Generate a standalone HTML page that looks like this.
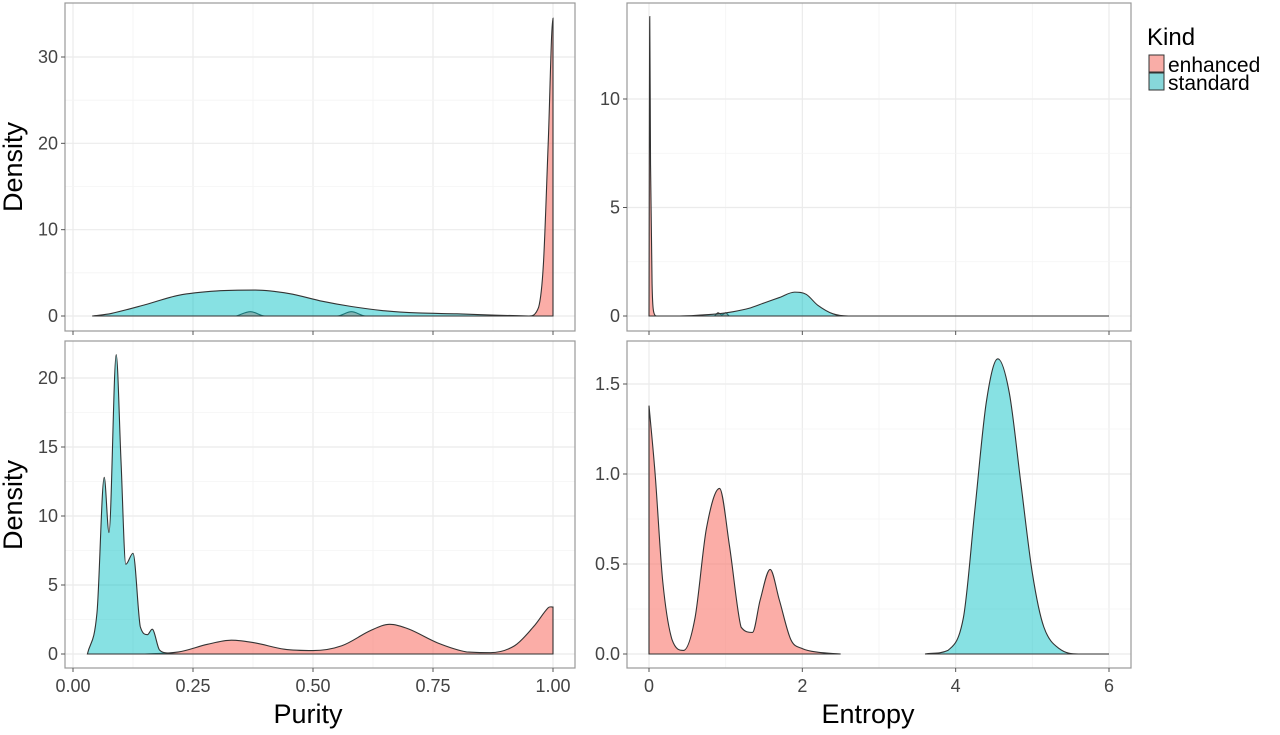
<!DOCTYPE html>
<html><head><meta charset="utf-8"><style>
body{margin:0;background:#fff;width:1280px;height:730px;overflow:hidden;font-family:"Liberation Sans",sans-serif}
</style></head><body>
<svg id="chart" width="1280" height="730" xmlns="http://www.w3.org/2000/svg" font-family="Liberation Sans, sans-serif"></svg>
<script>
// ---- data ----
const tlStdX=[0.04,0.08,0.15,0.22,0.3,0.38,0.45,0.52,0.58,0.65,0.72,0.8,0.88,0.95];
const tlStdY=[0,0.3,1.3,2.4,2.9,3.0,2.6,1.7,1.1,0.6,0.35,0.25,0.1,0];
const tlEnhX=[0.34,0.37,0.40,0.55,0.58,0.61,0.95,0.97,0.98,0.99,1.0,1.0];
const tlEnhY=[0,0.5,0,0,0.5,0,0,1.0,6,20,34.5,0];
const trEnhX=[0,0.01,0.02,0.04,0.06,0.1,0.85,0.9,0.95,1.0,1.05,6];
const trEnhY=[0,13.8,7,1.5,0.2,0,0,0.15,0.05,0.15,0,0];
const trStdX=[0,0.4,0.7,0.9,1.1,1.3,1.5,1.7,1.9,2.05,2.2,2.4,2.6,6];
const trStdY=[0,0,0.05,0.1,0.2,0.35,0.6,0.85,1.1,1.0,0.5,0.1,0,0];
const blStdX=[0.03,0.05,0.065,0.075,0.09,0.1,0.11,0.125,0.14,0.155,0.165,0.18,0.2,0.22];
const blStdY=[0,3,12.8,8.8,21.7,14,6.5,7.3,2,1.4,1.8,0.3,0.05,0];
const blEnhX=[0.15,0.22,0.28,0.33,0.38,0.44,0.5,0.56,0.62,0.66,0.7,0.76,0.82,0.87,0.92,0.96,0.99,1.0,1.0];
const blEnhY=[0,0.15,0.7,1.0,0.8,0.35,0.25,0.6,1.7,2.15,1.8,0.8,0.15,0.1,0.6,2.0,3.35,3.4,0];
const brEnhX=[0,0.08,0.18,0.3,0.45,0.6,0.75,0.92,1.05,1.2,1.35,1.45,1.58,1.7,1.85,2.0,2.2,2.5];
const brEnhY=[1.38,1.0,0.4,0.08,0.02,0.2,0.7,0.92,0.6,0.15,0.12,0.3,0.47,0.3,0.08,0.03,0.01,0];
const brStdX=[3.6,3.9,4.1,4.25,4.4,4.55,4.7,4.85,5.0,5.15,5.35,5.6,6.0];
const brStdY=[0,0.02,0.2,0.8,1.4,1.64,1.45,0.95,0.45,0.15,0.03,0,0];
const purTicks=[0,0.25,0.5,0.75,1.0];
const purLabels=["0.00","0.25","0.50","0.75","1.00"];
const entTicks=[0,2,4,6];
const entLabels=["0","2","4","6"];
const tlYTicks=[0,10,20,30];
const trYTicks=[0,5,10];
const blYTicks=[0,5,10,15,20];
const brYTicks=[0,0.5,1.0,1.5];
const brYLabels=["0.0","0.5","1.0","1.5"];

const NS="http://www.w3.org/2000/svg";
const svg=document.getElementById('chart');
function mk(tag,attrs,parent){const e=document.createElementNS(NS,tag);for(const k in attrs)e.setAttribute(k,attrs[k]);(parent||svg).appendChild(e);return e;}
function lin(d0,d1,r0,r1){return v=>r0+(v-d0)/(d1-d0)*(r1-r0);}

const L={x0:65,x1:575},R={x0:627,x1:1131},T={y0:3,y1:331},B={y0:341,y1:668};
const xPur=lin(0,1,73,553), xEnt=lin(0,6,649,1109);
const yTL=lin(0,30,316,57), yTR=lin(0,10,316,99), yBL=lin(0,20,654,378), yBR=lin(0,1.5,654,384);

function curve(pts){
 const n=pts.length,m=[];
 for(let i=0;i<n;i++){
  const a=pts[Math.max(0,i-1)],b=pts[Math.min(n-1,i+1)];
  const dx=b[0]-a[0];
  let s=dx>0.0001?(b[1]-a[1])/dx:0;
  // flatten at local extrema
  if(i>0&&i<n-1){const d1=pts[i][1]-pts[i-1][1],d2=pts[i+1][1]-pts[i][1];if(d1*d2<=0)s=0;}
  m.push(s);}
 let d="M"+pts[0][0]+","+pts[0][1];
 for(let i=0;i<n-1;i++){const p1=pts[i],p2=pts[i+1];const h=p2[0]-p1[0];
  if(h<0.01){d+=" L"+p2[0]+","+p2[1];continue;}
  let c1y=p1[1]+m[i]*h/3,c2y=p2[1]-m[i+1]*h/3;
  const lo=Math.min(p1[1],p2[1]),hi=Math.max(p1[1],p2[1]);
  const base=Math.max(p1[1],p2[1]);
  // prevent dipping below baseline region
  c1y=Math.min(c1y,Math.max(base,hi));c2y=Math.min(c2y,Math.max(base,hi));
  d+=` C${p1[0]+h/3},${c1y} ${p2[0]-h/3},${c2y} ${p2[0]},${p2[1]}`;}
 return d;}

function panel(name,px,py,xs,ys,xt,yt,ylab,xlab,series){
 const g=mk('g',{});
 for(let i=0;i<xt.length;i++){const X=xs(xt[i]);mk('line',{x1:X,x2:X,y1:py.y0,y2:py.y1,stroke:'#ebebeb','stroke-width':1.2},g);
  if(i<xt.length-1){const m=xs((xt[i]+xt[i+1])/2);mk('line',{x1:m,x2:m,y1:py.y0,y2:py.y1,stroke:'#f4f4f4','stroke-width':0.8},g);}}
 for(let i=0;i<yt.length;i++){const Y=ys(yt[i]);mk('line',{x1:px.x0,x2:px.x1,y1:Y,y2:Y,stroke:'#ebebeb','stroke-width':1.2},g);
  if(i<yt.length-1){const m=ys((yt[i]+yt[i+1])/2);mk('line',{x1:px.x0,x2:px.x1,y1:m,y2:m,stroke:'#f4f4f4','stroke-width':0.8},g);}}
 for(const s of series){
  const pts=s.x.map((v,i)=>[xs(v),ys(s.y[i])]);
  const base=ys(0);
  let d=curve(pts);d+=` L${pts[pts.length-1][0]},${base} L${pts[0][0]},${base} Z`;
  const p=mk('path',{d:d,fill:s.fill,stroke:'#333','stroke-width':1.1},g);
  
  
 }
 mk('rect',{x:px.x0,y:py.y0,width:px.x1-px.x0,height:py.y1-py.y0,fill:'none',stroke:'#999','stroke-width':1.2},g);
 for(let i=0;i<yt.length;i++){const Y=ys(yt[i]);mk('line',{x1:px.x0-4,x2:px.x0,y1:Y,y2:Y,stroke:'#555'},g);
  const t=mk('text',{x:px.x0-7,y:Y+6,'text-anchor':'end','font-size':18,fill:'#444'},g);t.textContent=ylab[i];
  }
 for(let i=0;i<xt.length;i++){const X=xs(xt[i]);mk('line',{x1:X,x2:X,y1:py.y1,y2:py.y1+4,stroke:'#555'},g);
  if(xlab){const t=mk('text',{x:X,y:py.y1+24,'text-anchor':'middle','font-size':18,fill:'#444'},g);t.textContent=xlab[i];
  }}
}
const PINK='rgba(248,118,109,0.6)',TEAL='rgba(0,191,196,0.47)';
panel('panel-purity-top',L,T,xPur,yTL,purTicks,tlYTicks,tlYTicks.map(String),null,
 [{name:'area-enhanced',x:tlEnhX,y:tlEnhY,fill:PINK},{name:'area-standard',x:tlStdX,y:tlStdY,fill:TEAL}]);
panel('panel-entropy-top',R,T,xEnt,yTR,entTicks,trYTicks,trYTicks.map(String),null,
 [{name:'area-enhanced',x:trEnhX,y:trEnhY,fill:PINK},{name:'area-standard',x:trStdX,y:trStdY,fill:TEAL}]);
panel('panel-purity-bottom',L,B,xPur,yBL,purTicks,blYTicks,blYTicks.map(String),purLabels,
 [{name:'area-enhanced',x:blEnhX,y:blEnhY,fill:PINK},{name:'area-standard',x:blStdX,y:blStdY,fill:TEAL}]);
panel('panel-entropy-bottom',R,B,xEnt,yBR,entTicks,brYTicks,brYLabels,entLabels,
 [{name:'area-enhanced',x:brEnhX,y:brEnhY,fill:PINK},{name:'area-standard',x:brStdX,y:brStdY,fill:TEAL}]);
</script>
<svg style="position:absolute;left:0;top:0" width="1280" height="730">
 <text transform="translate(22,167) rotate(-90)" text-anchor="middle" font-size="27" fill="#000" font-family="Liberation Sans, sans-serif">Density</text>
 <text transform="translate(22,505) rotate(-90)" text-anchor="middle" font-size="27" fill="#000" font-family="Liberation Sans, sans-serif">Density</text>
 <text x="308" y="723" text-anchor="middle" font-size="27" font-family="Liberation Sans, sans-serif">Purity</text>
 <text x="868" y="723" text-anchor="middle" font-size="27" font-family="Liberation Sans, sans-serif">Entropy</text>
 <g font-family="Liberation Sans, sans-serif">
  <text x="1147" y="45" font-size="24">Kind</text>
  <rect x="1149" y="55" width="15" height="17" fill="rgb(249,173,167)" stroke="#333"/>
  <text x="1168" y="72" font-size="21">enhanced</text>
  <rect x="1149" y="73" width="15" height="17" fill="rgb(135,215,218)" stroke="#333"/>
  <text x="1168" y="90" font-size="21">standard</text>
 </g>
</svg>
</body></html>
